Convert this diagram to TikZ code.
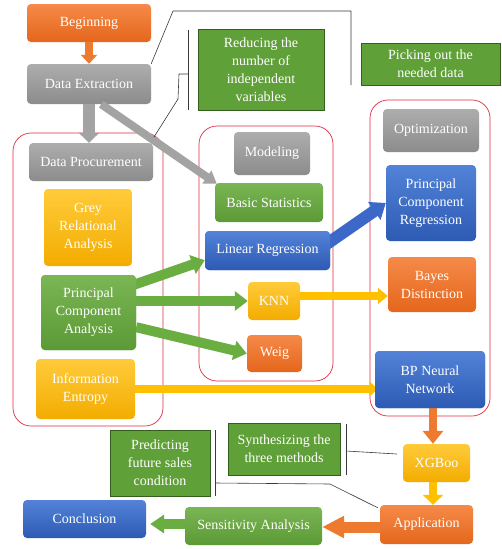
\documentclass[tikz,border=0pt]{standalone}
\usepackage{fontspec}
\setmainfont{Liberation Serif}
\usetikzlibrary{arrows.meta,calc}
\definecolor{orT}{HTML}{F58A48}\definecolor{orB}{HTML}{E5661C}
\definecolor{grT}{HTML}{ADADAD}\definecolor{grB}{HTML}{8C8C8C}
\definecolor{goT}{HTML}{FFCB3A}\definecolor{goB}{HTML}{F3AC00}
\definecolor{gnT}{HTML}{7AB653}\definecolor{gnB}{HTML}{5B9A36}
\definecolor{blT}{HTML}{5382D8}\definecolor{blB}{HTML}{2D5BB4}
\definecolor{coFill}{HTML}{5FA038}\definecolor{coLine}{HTML}{355F1E}
\definecolor{redL}{HTML}{DD2E40}
\definecolor{arOr}{HTML}{EE7A30}\definecolor{arGr}{HTML}{A3A3A3}
\definecolor{arGn}{HTML}{6AAE42}\definecolor{arBl}{HTML}{3C69C8}
\definecolor{arGo}{HTML}{FFC000}
\definecolor{callL}{HTML}{3A3A3A}
\begin{document}
\begin{tikzpicture}[x=1pt,y=-1pt,
  box/.style={rounded corners=4pt,align=center,text=white,inner sep=0pt,
    font=\fontsize{14}{18}\selectfont},
  orbox/.style={box,top color=orT,bottom color=orB},
  grbox/.style={box,top color=grT,bottom color=grB},
  gobox/.style={box,top color=goT,bottom color=goB},
  gnbox/.style={box,top color=gnT,bottom color=gnB},
  blbox/.style={box,top color=blT,bottom color=blB},
  callbox/.style={align=center,text=white,inner sep=0pt,fill=coFill,draw=coLine,line width=0.8pt,
    font=\fontsize{14}{18}\selectfont},
  redframe/.style={draw=redL,line width=0.7pt,rounded corners=18pt},
  callline/.style={draw=callL,line width=0.6pt},
  barrow/.style n args={4}{draw=#1,line width=#2,-{Triangle[width=#3,length=#4]}},
]
\useasboundingbox (0,0) rectangle (502,549);
\fill[white] (0,0) rectangle (502,549);

% red frames
\draw[redframe] (13,133) rectangle (163,426);
\draw[redframe] (199,126) rectangle (333,381);
\draw[redframe] (370,100) rectangle (490,416);

% nodes
\node[orbox,minimum width=124,minimum height=38] (beg) at (89,23) {Beginning};
\node[grbox,minimum width=124,minimum height=40] (de) at (89,84) {Data Extraction};
\node[grbox,minimum width=124,minimum height=38] (dp) at (91,162) {Data Procurement};
\node[gobox,minimum width=88,minimum height=77] (gra) at (88,227.5) {Grey\\Relational\\Analysis};
\node[gnbox,minimum width=95,minimum height=75] (pca) at (88.5,312.5) {Principal\\Component\\Analysis};
\node[gobox,minimum width=99,minimum height=60] (ie) at (85.5,389) {Information\\Entropy};
\node[grbox,minimum width=76,minimum height=43] (mod) at (272,153.5) {Modeling};
\node[gnbox,minimum width=108,minimum height=39] (bs) at (269,202.5) {Basic Statistics};
\node[blbox,minimum width=125,minimum height=39] (lr) at (267.5,250.5) {Linear Regression};
\node[gobox,minimum width=52,minimum height=38] (knn) at (274,301) {KNN};
\node[orbox,minimum width=55,minimum height=37] (weig) at (274.5,353.5) {Weig};
\node[grbox,minimum width=96,minimum height=43] (opt) at (431,130.5) {Optimization};
\node[blbox,minimum width=90,minimum height=76] (pcr) at (431,203) {Principal\\Component\\Regression};
\node[orbox,minimum width=88,minimum height=55] (bayes) at (432,284.5) {Bayes\\Distinction};
\node[blbox,minimum width=110,minimum height=57] (bp) at (430,379.5) {BP Neural\\Network};
\node[gobox,minimum width=67,minimum height=38] (xgb) at (436.5,463) {XGBoo};
\node[orbox,minimum width=93,minimum height=39] (app) at (426.5,524.5) {Application};
\node[gnbox,minimum width=137,minimum height=38] (sa) at (253.5,526) {Sensitivity Analysis};
\node[blbox,minimum width=123,minimum height=38] (con) at (84.5,519) {Conclusion};

% callouts
\node[callbox,minimum width=126,minimum height=81] (red) at (261,69.5) {Reducing the\\number of\\independent\\variables};
\node[callbox,minimum width=139,minimum height=42] (pick) at (430.5,64) {Picking out the\\needed data};
\node[callbox,minimum width=100,minimum height=66] (pred) at (160,463) {Predicting\\future sales\\condition};
\node[callbox,minimum width=112,minimum height=52] (syn) at (284,449) {Synthesizing the\\three methods};

% block arrows
\begin{scope}[on background layer/.style={}]
\end{scope}
\draw[barrow={arOr}{8pt}{16pt}{9pt}] (beg.south) -- (de.north);
\draw[barrow={arGr}{12pt}{20pt}{10pt}] (de.south) -- ($(dp.north)+(-2,0)$);
\draw[barrow={arGr}{8pt}{15pt}{12pt}] ($(de.south east)+(-50,0)$) -- ($(bs.north west)+(2,1)$);
\draw[barrow={arGn}{10pt}{19pt}{13pt}] ($(pca.north east)+(-11,13)$) -- ($(lr.south west)+(0,-10)$);
\draw[barrow={arGn}{10pt}{19pt}{13pt}] (pca.east |- knn.west) -- (knn.west);
\draw[barrow={arGn}{10pt}{19pt}{13pt}] ($(pca.south east)+(0,-23)$) -- (weig.west);
\draw[barrow={arBl}{12pt}{21pt}{14pt}] ($(lr.east)+(-10,-2)$) -- (pcr.west);
\draw[barrow={arGo}{8pt}{16pt}{10pt}] ($(knn.east)+(0,-5)$) -- ($(bayes.west)+(0,11.5)$);
\draw[barrow={arGo}{8pt}{14pt}{8pt}] (ie.east) -- ($(ie.east -| bp.west)+(3,0)$);
\draw[barrow={arOr}{8pt}{20pt}{13pt}] ($(bp.south)+(3,0)$) -- ($(xgb.north)+(-3.5,0)$);
\draw[barrow={arGo}{8pt}{20pt}{10pt}] ($(xgb.south)+(-3.5,0)$) -- ($(app.north)+(6.5,0)$);
\draw[barrow={arOr}{11pt}{21pt}{22pt}] ($(app.west)+(0,2.5)$) -- ($(app.west -| sa.east)+(0,2.5)$);
\draw[barrow={arGn}{10pt}{18pt}{14pt}] ($(sa.west)+(0,-2)$) -- ($(sa.west -| con.east)+(4,-2)$);

% redraw boxes the arrows enter (so arrows sit beneath them)
\node[blbox,minimum width=110,minimum height=57] at (bp) {BP Neural\\Network};
\node[gnbox,minimum width=95,minimum height=75] at (pca) {Principal\\Component\\Analysis};
\node[blbox,minimum width=125,minimum height=39] at (lr) {Linear Regression};

% callout lines
\coordinate (pk1) at (173,11);
\coordinate (pk2) at (351,11);
\coordinate (pk3) at (351,85);
\draw[callline] (de.north east) -- (pk1) -- (pk2) -- (pk3);
\coordinate (rb1) at (188,30);
\coordinate (rb2) at (188,110);
\coordinate (rb3) at (188,74);
\coordinate (rb4) at (179,74);
\coordinate (rb5) at (178,99);
\coordinate (rb6) at (154,137);
\draw[callline] (rb1) -- (rb2);
\draw[callline] (rb3) -- (rb4) -- (rb5) -- (rb6);
\coordinate (sb1) at (346,424);
\coordinate (sb2) at (346,475);
\coordinate (sb3) at (346,451);
\draw[callline] (sb1) -- (sb2);
\draw[callline] (sb3) -- ($(xgb.west)+(-6,-9)$);
\coordinate (pb1) at (215,430);
\coordinate (pb2) at (215,496);
\coordinate (pb3) at (215,483);
\coordinate (pb4) at (330,484);
\draw[callline] (pb1) -- (pb2);
\draw[callline] (pb3) -- (pb4) -- ($(app.north west)+(-2,3)$);
\end{tikzpicture}
\end{document}
